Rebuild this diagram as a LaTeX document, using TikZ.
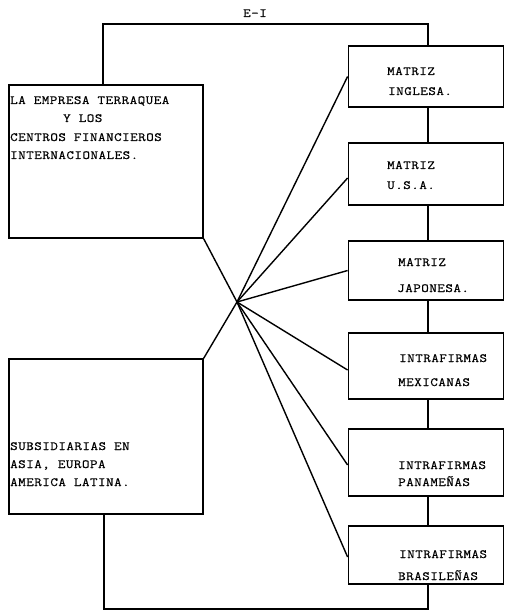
\documentclass[tikz,border=0pt]{standalone}
\usepackage{fontspec}
\usetikzlibrary{calc}
\newfontfamily\typew{Latin Modern Mono}[FakeStretch=1.17, LetterSpace=4, FakeBold=0.6]
\tikzset{
  box/.style={draw, line width=1.3pt, rectangle, inner sep=0pt},
  lbl/.style={anchor=base west, inner sep=0pt, font=\typew\fontsize{12.5}{14}\selectfont},
  conn/.style={line width=1.4pt},
}
\begin{document}
\begin{tikzpicture}[x=1pt, y=-1pt]
\useasboundingbox (0,0) rectangle (505,612);
% boxes
\node[box, minimum width=194pt, minimum height=153pt] (A) at (106,161.5) {};
\node[box, minimum width=194pt, minimum height=155pt] (B) at (106,436.5) {};
\node[box, minimum width=155pt, minimum height=61pt] (R1) at (425.75,76.5) {};
\node[box, minimum width=155pt, minimum height=62pt] (R2) at (425.75,174) {};
\node[box, minimum width=155pt, minimum height=59pt] (R3) at (425.75,270.5) {};
\node[box, minimum width=155pt, minimum height=66pt] (R4) at (425.75,366) {};
\node[box, minimum width=155pt, minimum height=67pt] (R5) at (425.75,462.5) {};
\node[box, minimum width=155pt, minimum height=58pt] (R6) at (425.75,555) {};
% texts
\node[lbl] (ta1) at (10,104) {LA EMPRESA TERRAQUEA};
\node[lbl] (ta2) at (63,122) {Y LOS};
\node[lbl] (ta3) at (10,141) {CENTROS FINANCIEROS};
\node[lbl] (ta4) at (10,159) {INTERNACIONALES.};
\node[lbl] (tb1) at (10,450) {SUBSIDIARIAS EN};
\node[lbl] (tb2) at (10,468) {ASIA, EUROPA};
\node[lbl] (tb3) at (10,486) {AMERICA LATINA.};
\node[lbl] (t11) at (387,75) {MATRIZ};
\node[lbl] (t12) at (388,95) {INGLESA.};
\node[lbl] (t21) at (387,169) {MATRIZ};
\node[lbl] (t22) at (387,189) {U.S.A.};
\node[lbl] (t31) at (398,266) {MATRIZ};
\node[lbl] (t32) at (397,292) {JAPONESA.};
\node[lbl] (t41) at (399,362) {INTRAFIRMAS};
\node[lbl] (t42) at (398,386) {MEXICANAS};
\node[lbl] (t51) at (398,469) {INTRAFIRMAS};
\node[lbl] (t52) at (398,486) {PANAMEÑAS};
\node[lbl] (t61) at (399,558) {INTRAFIRMAS};
\node[lbl] (t62) at (398,580) {BRASILEÑAS};
\node[lbl] (ei) at (243,17) {E-I};
% helper coordinates
\coordinate (cx) at (428,0);
\coordinate (ltop) at (103,24);
\coordinate (lbot) at (104,609);
\coordinate (hub) at (237,302);
% loops
\draw[conn] (A.north -| ltop) -- (ltop) -| (R1.north -| cx);
\draw[conn] (B.south -| lbot) -- (lbot) -| (R6.south -| cx);
% chain on the right
\draw[conn] (R1.south -| cx) -- (R2.north -| cx);
\draw[conn] (R2.south -| cx) -- (R3.north -| cx);
\draw[conn] (R3.south -| cx) -- (R4.north -| cx);
\draw[conn] (R4.south -| cx) -- (R5.north -| cx);
\draw[conn] (R5.south -| cx) -- (R6.north -| cx);
% fan
\draw[conn] (A.south east) -- (hub);
\draw[conn] (B.north east) -- (hub);
\draw[conn] (hub) -- (R1.west);
\draw[conn] (hub) -- ($(R2.west)+(0,4)$);
\draw[conn] (hub) -- (R3.west);
\draw[conn] (hub) -- ($(R4.west)+(0,4)$);
\draw[conn] (hub) -- ($(R5.west)+(0,2.5)$);
\draw[conn] (hub) -- ($(R6.west)+(0,2)$);
\end{tikzpicture}
\end{document}
